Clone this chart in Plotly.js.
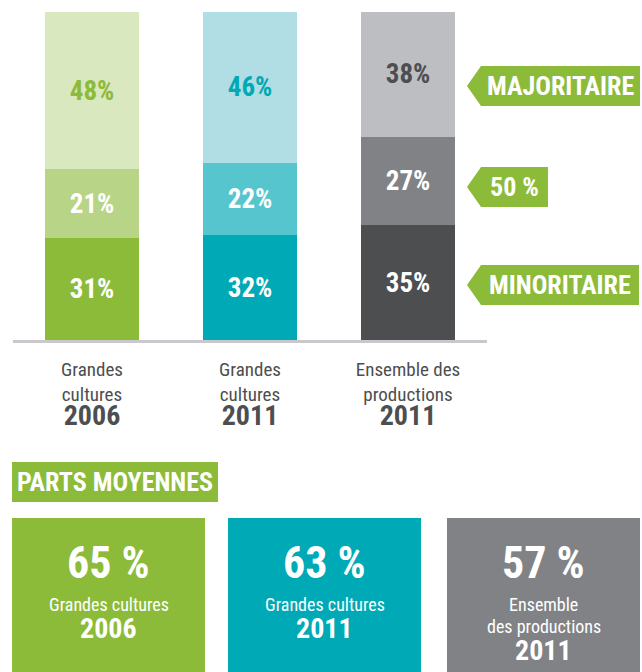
<!DOCTYPE html>
<html><head><meta charset="utf-8">
<script src="https://cdn.plot.ly/plotly-3.0.1.min.js"></script>
<style>html,body{margin:0;padding:0;background:#fff;overflow:hidden}</style>
</head><body><div id="chart" style="width:642px;height:672px"></div>
<script>
// ---- data ----
const categories = ["Grandes cultures 2006", "Grandes cultures 2011", "Ensemble des productions 2011"];
const catLines = ["Grandes<br>cultures", "Grandes<br>cultures", "Ensemble des<br>productions"];
const catYears = ["2006", "2011", "2011"];
const minoritaire = [31, 32, 35];
const moitie = [21, 22, 27];
const majoritaire = [48, 46, 38];
const tagLabels = ["MAJORITAIRE", "50 %", "MINORITAIRE"];
const avgTitle = "PARTS MOYENNES";
const avgValues = [65, 63, 57];
const avgLines = [["Grandes cultures"], ["Grandes cultures"], ["Ensemble", "des productions"]];
const avgYears = ["2006", "2011", "2011"];

// ---- styles ----
const FONT = "'Roboto Condensed', 'Open Sans', Roboto, sans-serif";
const dark = ["#8cbb3a", "#00a9b6", "#4d4e50"];
const mid = ["#b8d487", "#56c5ce", "#818286"];
const light = ["#d9e8be", "#b0dee4", "#bdbec2"];
const topText = ["#8cbb3a", "#00a9b6", "#4d4e50"];
const tagColor = "#8cbb3a";
const boxColors = ["#8cbb3a", "#00a9b6", "#818286"];
const W = 642, H = 672;
const px = x => x / W, py = y => 1 - y / H;

function barTrace(vals, colors, textColors) {
  return {
    type: "bar", x: categories, y: vals,
    marker: { color: colors, line: { width: 0 } },
    text: vals.map(v => v + "%"), textposition: "inside", insidetextanchor: "middle",
    textfont: { family: FONT, size: 27, color: textColors, weight: 700 },
    hoverinfo: "skip", width: 0.6
  };
}
const data = [
  barTrace(minoritaire, dark, ["#fff", "#fff", "#fff"]),
  barTrace(moitie, mid, ["#fff", "#fff", "#fff"]),
  barTrace(majoritaire, light, topText)
];

const shapes = [], annotations = [];
// tags
const tagBoxes = [
  { yt: 66, yb: 106, xr: 640 },
  { yt: 167, yb: 207, xr: 548 },
  { yt: 265, yb: 305, xr: 639 }
];
tagBoxes.forEach((b, i) => {
  const xb = 481, tip = 467, ym = (b.yt + b.yb) / 2;
  shapes.push({
    type: "path", xref: "paper", yref: "paper",
    path: `M ${px(b.xr)} ${py(b.yt)} L ${px(xb)} ${py(b.yt)} L ${px(tip)} ${py(ym)} L ${px(xb)} ${py(b.yb)} L ${px(b.xr)} ${py(b.yb)} Z`,
    fillcolor: tagColor, line: { width: 0 }
  });
  annotations.push({
    xref: "paper", yref: "paper", x: px((xb + b.xr) / 2), y: py(ym), xanchor: "center", yanchor: "middle",
    text: "<b>" + tagLabels[i] + "</b>", showarrow: false,
    font: { family: FONT, size: 26, color: "#fff" }
  });
});
// PARTS MOYENNES
shapes.push({ type: "rect", xref: "paper", yref: "paper", x0: px(12), x1: px(218), y0: py(462), y1: py(502), fillcolor: tagColor, line: { width: 0 } });
annotations.push({ xref: "paper", yref: "paper", x: px(115), y: py(482), xanchor: "center", yanchor: "middle",
  text: "<b>" + avgTitle + "</b>", showarrow: false, font: { family: FONT, size: 26, color: "#fff" } });
// average boxes
const boxX = [[12, 205], [228, 421], [447, 640]];
avgValues.forEach((v, i) => {
  const [x0, x1] = boxX[i], cx = (x0 + x1) / 2;
  shapes.push({ type: "rect", xref: "paper", yref: "paper", x0: px(x0), x1: px(x1), y0: py(672), y1: py(518), fillcolor: boxColors[i], line: { width: 0 } });
  annotations.push({ xref: "paper", yref: "paper", x: px(cx), y: py(563), xanchor: "center", yanchor: "middle",
    text: "<b>" + v + " %</b>", showarrow: false, font: { family: FONT, size: 44, color: "#fff" } });
  const lines = avgLines[i];
  lines.forEach((ln, k) => {
    annotations.push({ xref: "paper", yref: "paper", x: px(cx), y: py(604 + 22 * k), xanchor: "center", yanchor: "middle",
      text: ln, showarrow: false, font: { family: FONT, size: 18, color: "#fff" } });
  });
  annotations.push({ xref: "paper", yref: "paper", x: px(cx), y: py(628 + 22 * (lines.length - 1)), xanchor: "center", yanchor: "middle",
    text: "<b>" + avgYears[i] + "</b>", showarrow: false, font: { family: FONT, size: 28, color: "#fff" } });
});

const layout = {
  width: W, height: H, margin: { l: 0, r: 0, t: 0, b: 0 },
  paper_bgcolor: "#fff", plot_bgcolor: "#fff",
  barmode: "stack", showlegend: false,
  xaxis: {
    domain: [px(13), px(487)], type: "category", range: [-0.5, 2.5],
    tickvals: categories,
    ticktext: catLines.map((t, i) => t + "<br><b><span style='font-size:28px'>" + catYears[i] + "</span></b>"),
    showline: true, linecolor: "#c9c9cd", linewidth: 3,
    ticks: "", showgrid: false, zeroline: false, fixedrange: true,
    ticklabelstandoff: 10,
    tickfont: { family: FONT, size: 19, color: "#4d4e50" }
  },
  yaxis: {
    domain: [py(340), py(12)], range: [0, 100],
    visible: false, fixedrange: true
  },
  shapes: shapes, annotations: annotations
};
Plotly.newPlot("chart", data, layout, { displayModeBar: false, staticPlot: true });
</script></body></html>
